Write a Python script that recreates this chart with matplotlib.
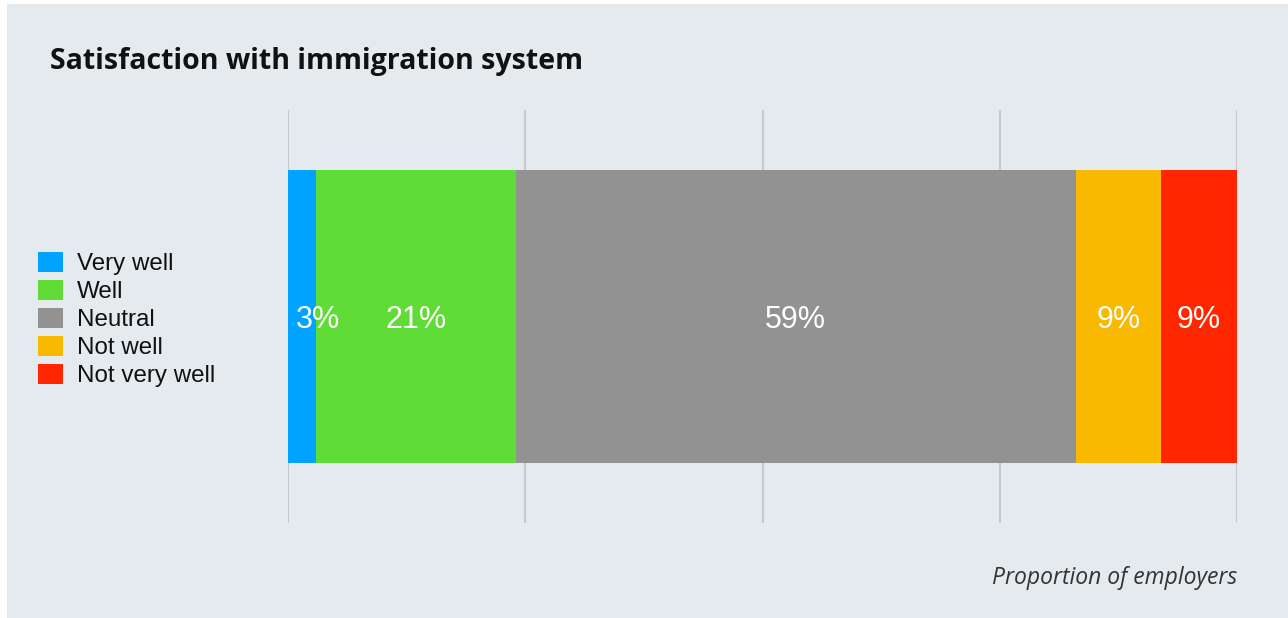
import matplotlib
matplotlib.use("Agg")
import matplotlib.pyplot as plt
from matplotlib.patches import Patch, Rectangle

# Survey responses (share of employers, %)
categories = ["Very well", "Well", "Neutral", "Not well", "Not very well"]
values = [3, 21, 59, 9, 9]
colors = ["#00a3ff", "#60dc37", "#929292", "#f8b900", "#ff2600"]
x_ticks = [0, 25, 50, 75, 100]

W, H = 1288, 618
fig = plt.figure(figsize=(W / 100, H / 100), dpi=100)
fig.patch.set_facecolor("white")
fig.patches.append(Rectangle((7 / W, 0), 1 - 7 / W, 1 - 4 / H,
                             transform=fig.transFigure, facecolor="#e5eaee",
                             edgecolor="none", zorder=-10))

ax = fig.add_axes([288 / W, 1 - 523 / H, (1237 - 288) / W, (523 - 110) / H])
ax.set_facecolor("none")
ax.set_xlim(0, 100)
ax.set_ylim(-0.5, 0.5)

for t in x_ticks:
    ax.axvline(t, color="#c8c8c8", lw=1.5, zorder=0)

label_font = ["Liberation Sans", "DejaVu Sans"]
renderer = fig.canvas.get_renderer()
px_per_unit = (1237 - 288) / 100.0
pad_units = 8 / px_per_unit

left = 0
for cat, v, c in zip(categories, values, colors):
    ax.barh(0, v, left=left, height=0.71, color=c, edgecolor="none", zorder=2)
    right = min(left + v, 100)
    txt = ax.text((left + right) / 2, -0.008, f"{v}%", color="white",
                  ha="center", va="center", fontsize=22, family=label_font,
                  zorder=3, clip_on=False)
    # keep labels inside the plotting area
    w_units = txt.get_window_extent(renderer).width / px_per_unit
    cx = (left + right) / 2
    cx = max(cx, pad_units + w_units / 2)
    cx = min(cx, 100 - w_units / 2)
    txt.set_x(cx)
    left += v

for s in ax.spines.values():
    s.set_visible(False)
ax.set_xticks([])
ax.set_yticks([])

fig.text(50 / W, 1 - 69 / H, "Satisfaction with immigration system",
         fontsize=20.5, fontweight="bold", family=["Open Sans", "DejaVu Sans"],
         color="#111111", ha="left", va="baseline")

fig.text(1237 / W, 1 - 578 / H, "Proportion of employers", fontsize=16.5,
         style="italic", family=["Open Sans", "DejaVu Sans"], color="#333333",
         ha="right", va="center")

handles = [Patch(facecolor=c, edgecolor="none") for c in colors]
leg = fig.legend(handles, categories, loc="upper left",
                 bbox_to_anchor=(38 / W, 1 - 252 / H), frameon=False,
                 prop={"family": label_font, "size": 17.4},
                 handlelength=1.05, handleheight=0.9, handletextpad=0.55,
                 labelspacing=0.19, borderpad=0, borderaxespad=0)
for t in leg.get_texts():
    t.set_color("#111111")

fig.savefig("out.png", dpi=100, facecolor=fig.get_facecolor())
